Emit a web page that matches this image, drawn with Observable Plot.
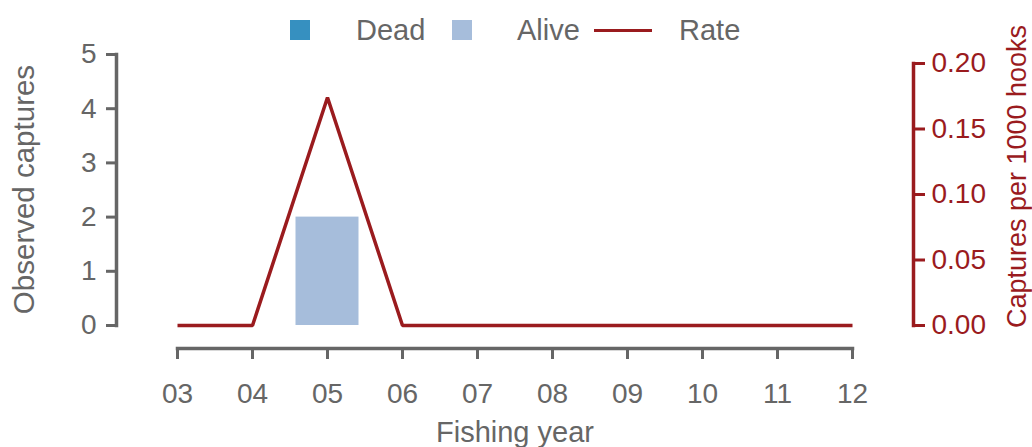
<!DOCTYPE html>
<html>
<head>
<meta charset="utf-8">
<script src="https://cdn.jsdelivr.net/npm/d3@7"></script>
<script src="https://cdn.jsdelivr.net/npm/@observablehq/plot@0.6"></script>
<style>
  html, body { margin: 0; padding: 0; background: #fff; }
  #wrap { position: relative; width: 1032px; height: 447px; font-family: "Liberation Sans", Arial, Helvetica, sans-serif; }
  #legend { position: absolute; left: 0; top: 0; width: 1032px; height: 50px; }
  #legend .sw { position: absolute; width: 20px; height: 20px; top: 20px; }
  #legend .tx { position: absolute; top: 12px; font-size: 29px; line-height: 36px; color: #666; }
  #legend .ln { position: absolute; height: 3px; top: 29px; }
  #chart { position: absolute; left: 0; top: 0; }
</style>
</head>
<body>
<div id="wrap">
  <div id="chart"></div>
  <div id="legend"></div>
</div>
<script>
// ---- data ----
const years = [3, 4, 5, 6, 7, 8, 9, 10, 11, 12];
const yearLabels = ["03", "04", "05", "06", "07", "08", "09", "10", "11", "12"];
const dead  = [0, 0, 0, 0, 0, 0, 0, 0, 0, 0];
const alive = [0, 0, 2, 0, 0, 0, 0, 0, 0, 0];
const rate  = [0, 0, 0.174, 0, 0, 0, 0, 0, 0, 0];
const countTicks = [0, 1, 2, 3, 4, 5];
const rateTicks = [0, 0.05, 0.10, 0.15, 0.20];
const statuses = ["Dead", "Alive"];
const statusColors = ["#3690c0", "#a6bddb"];
const rateColor = "#9a1b1e";
const grey = "#666666";

// secondary axis: 0.20 on rate axis equals this many counts on primary axis
const rateMaxInCounts = 4.834;
const k = rateMaxInCounts / 0.2;

const barRows = years.flatMap((yr, i) => [
  {year: yr, status: "Dead", n: dead[i]},
  {year: yr, status: "Alive", n: alive[i]}
]);
const rateRows = years.map((yr, i) => ({year: yr, rate: rate[i]}));

const W = 1032, H = 447;
const plot = Plot.plot({
  width: W,
  height: H,
  marginTop: 54,
  marginBottom: 99,
  marginLeft: 116,
  marginRight: 119,
  style: {fontFamily: '"Liberation Sans", Arial, Helvetica, sans-serif', fontSize: "28px", color: grey, background: "transparent"},
  x: {type: "linear", domain: [3, 12], range: [177, 852]},
  y: {domain: [0, 5], range: [325, 54]},
  color: {domain: statuses, range: statusColors},
  marks: [
    Plot.rectY(barRows, {x1: d => d.year - 0.42, x2: d => d.year + 0.42, y: "n", fill: "status"}),
    Plot.line(rateRows, {x: "year", y: d => d.rate * k, stroke: rateColor, strokeWidth: 3.5, strokeLinejoin: "miter", strokeLinecap: "butt"}),
    // left axis
    Plot.frame({anchor: "left", insetBottom: 23, stroke: grey, strokeWidth: 3.5}),
    Plot.axisY(countTicks, {anchor: "left", tickSize: 10, tickPadding: 10, strokeWidth: 3, color: grey, label: null, tickFormat: d => String(d)}),
    // right axis
    Plot.frame({anchor: "right", insetBottom: 23, insetTop: 9, stroke: rateColor, strokeWidth: 3.5}),
    Plot.axisY(rateTicks.map(v => v * k), {anchor: "right", tickSize: 11, tickPadding: 7, strokeWidth: 3, color: rateColor, label: null, tickFormat: d => (d / k).toFixed(2)}),
    // bottom axis
    Plot.frame({anchor: "bottom", insetLeft: 61, insetRight: 61, stroke: grey, strokeWidth: 3.5}),
    Plot.axisX(years, {anchor: "bottom", tickSize: 11, tickPadding: 24, strokeWidth: 3, color: grey, label: null, tickFormat: d => yearLabels[years.indexOf(d)]}),
    // titles
    Plot.text(["Observed captures"], {frameAnchor: "left", textAnchor: "middle", lineAnchor: "middle", rotate: -90, dx: -92, dy: -12, fill: grey, fontSize: 29.5}),
    Plot.text(["Captures per 1000 hooks"], {frameAnchor: "right", textAnchor: "middle", lineAnchor: "middle", rotate: -90, dx: 104, dy: -25, fill: rateColor, fontSize: 27}),
    Plot.text(["Fishing year"], {frameAnchor: "bottom", textAnchor: "middle", lineAnchor: "middle", dy: 84, fill: grey, fontSize: 29})
  ]
});
document.getElementById("chart").appendChild(plot);

// legend (HTML)
const legend = document.getElementById("legend");
const legendItems = [
  {label: statuses[0], kind: "sw", color: statusColors[0], sx: 290, tx: 356},
  {label: statuses[1], kind: "sw", color: statusColors[1], sx: 452, tx: 517},
  {label: "Rate", kind: "ln", color: rateColor, sx: 594, tx: 679}
];
for (const it of legendItems) {
  const s = document.createElement("div");
  s.className = it.kind;
  s.style.left = it.sx + "px";
  s.style.background = it.color;
  if (it.kind === "ln") s.style.width = "58px";
  legend.appendChild(s);
  const t = document.createElement("div");
  t.className = "tx";
  t.style.left = it.tx + "px";
  t.textContent = it.label;
  legend.appendChild(t);
}
</script>
</body>
</html>
